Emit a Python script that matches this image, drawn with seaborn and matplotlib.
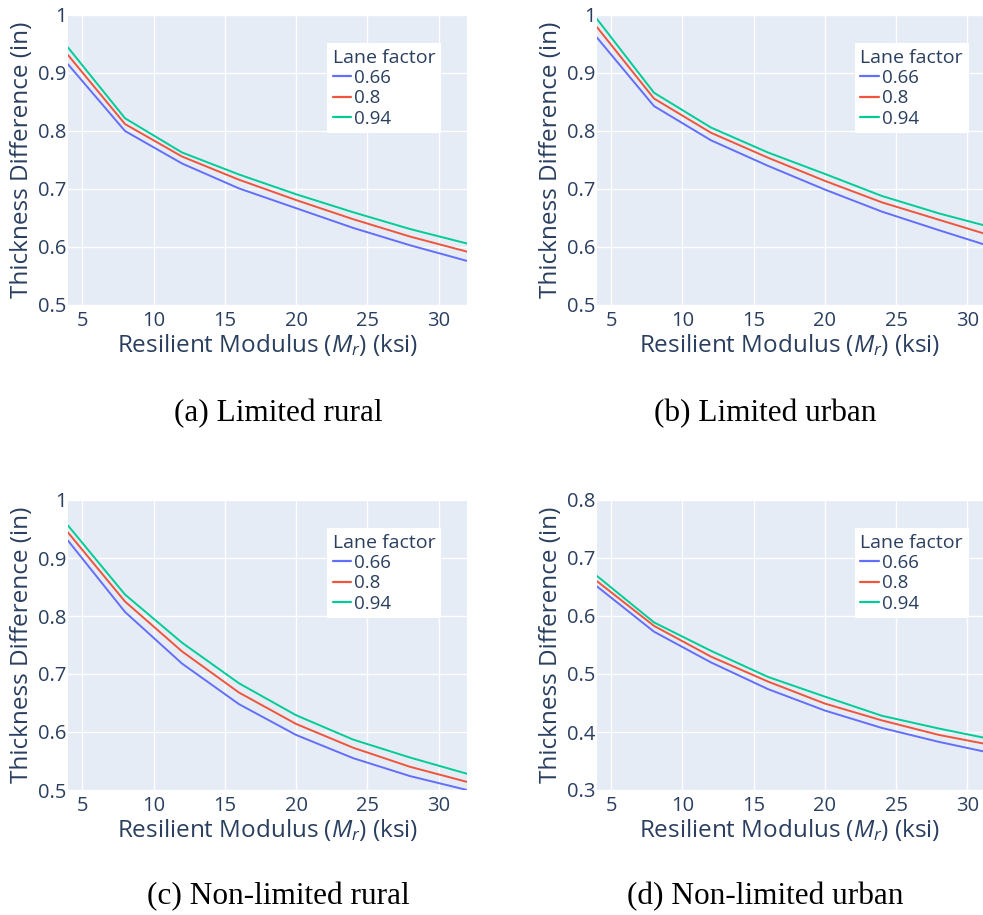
import matplotlib
matplotlib.use("Agg")
import matplotlib.pyplot as plt
from matplotlib.ticker import FuncFormatter, MultipleLocator
import numpy as np
import pandas as pd
import seaborn as sns

# Resilient modulus (ksi) sampled for every case
modulus = [4, 8, 12, 16, 20, 24, 28, 32]
lane_factors = ["0.66", "0.8", "0.94"]

# Thickness difference (in) per lane factor
limited_rural_066 = [0.915, 0.800, 0.744, 0.701, 0.667, 0.633, 0.603, 0.576]
limited_rural_080 = [0.931, 0.812, 0.756, 0.716, 0.681, 0.648, 0.618, 0.592]
limited_rural_094 = [0.944, 0.822, 0.763, 0.725, 0.691, 0.660, 0.631, 0.606]

limited_urban_066 = [0.961, 0.843, 0.784, 0.740, 0.699, 0.661, 0.629, 0.598]
limited_urban_080 = [0.979, 0.856, 0.797, 0.754, 0.714, 0.677, 0.647, 0.617]
limited_urban_094 = [0.993, 0.866, 0.806, 0.763, 0.726, 0.688, 0.658, 0.632]

nonlimited_rural_066 = [0.930, 0.807, 0.718, 0.648, 0.595, 0.555, 0.524, 0.500]
nonlimited_rural_080 = [0.944, 0.825, 0.739, 0.668, 0.614, 0.573, 0.540, 0.514]
nonlimited_rural_094 = [0.956, 0.837, 0.754, 0.684, 0.629, 0.587, 0.556, 0.528]

nonlimited_urban_066 = [0.651, 0.573, 0.520, 0.474, 0.437, 0.407, 0.383, 0.362]
nonlimited_urban_080 = [0.660, 0.583, 0.530, 0.487, 0.449, 0.420, 0.395, 0.376]
nonlimited_urban_094 = [0.669, 0.589, 0.540, 0.495, 0.461, 0.428, 0.406, 0.386]

captions = ["(a) Limited rural", "(b) Limited urban",
            "(c) Non-limited rural", "(d) Non-limited urban"]

series = [
    [limited_rural_066, limited_rural_080, limited_rural_094],
    [limited_urban_066, limited_urban_080, limited_urban_094],
    [nonlimited_rural_066, nonlimited_rural_080, nonlimited_rural_094],
    [nonlimited_urban_066, nonlimited_urban_080, nonlimited_urban_094],
]

y_limits = [(0.5, 1.0), (0.5, 1.0), (0.5, 1.0), (0.3, 0.8)]
x_limits = [(4, 32), (4, 31.1), (4, 32), (4, 31.1)]

sns.set_theme(style="darkgrid")
plt.rcParams["font.family"] = ["Open Sans", "DejaVu Sans"]
plt.rcParams["mathtext.fontset"] = "custom"
plt.rcParams["mathtext.rm"] = "Open Sans"
plt.rcParams["mathtext.it"] = "Open Sans:italic"

TEXT = "#2a3f5f"
BG = "#E5ECF6"
palette = {"0.66": "#636efa", "0.8": "#EF553B", "0.94": "#00cc96"}

W, H = 983, 915
fig = plt.figure(figsize=(W / 100, H / 100), dpi=100)
fig.patch.set_facecolor("white")

# axes boxes in pixels: left, top, right, bottom
boxes = [(68, 15, 467, 305), (597, 15, 983, 305),
         (68, 500, 467, 790), (597, 500, 983, 790)]
legend_anchor = [(0.649, 0.903), (0.668, 0.903), (0.649, 0.903), (0.668, 0.903)]
caption_pos = [(278, 414), (765, 414), (278, 897), (765, 897)]

for i in range(4):
    l, t, r, b = boxes[i]
    ax = fig.add_axes([l / W, 1 - b / H, (r - l) / W, (b - t) / H])
    rows = []
    for lf, vals in zip(lane_factors, series[i]):
        for x, y in zip(modulus, vals):
            rows.append({"Mr": x, "diff": y, "Lane factor": lf})
    df = pd.DataFrame(rows)
    sns.lineplot(data=df, x="Mr", y="diff", hue="Lane factor",
                 hue_order=lane_factors, palette=palette, linewidth=1.4,
                 ax=ax, estimator=None, sort=False)
    ax.set_facecolor(BG)
    ax.set_xlim(*x_limits[i])
    ax.set_ylim(*y_limits[i])
    ax.xaxis.set_major_locator(MultipleLocator(5))
    ax.yaxis.set_major_locator(MultipleLocator(0.1))
    ax.yaxis.set_major_formatter(FuncFormatter(lambda v, p: f"{v:g}"))
    ax.grid(True, color="white", linewidth=1.0)
    for s in ax.spines.values():
        s.set_visible(False)
    ax.tick_params(axis="both", length=0, labelsize=14.5, colors=TEXT)
    ax.tick_params(axis="x", pad=4)
    ax.tick_params(axis="y", pad=1)
    ax.set_xlabel("Resilient Modulus ($M_r$) (ksi)", fontsize=17.5,
                  color=TEXT, labelpad=1)
    ax.set_ylabel("Thickness Difference (in)", fontsize=17.5, color=TEXT,
                  labelpad=3)
    leg = ax.legend(title="Lane factor", loc="upper left",
                    bbox_to_anchor=legend_anchor[i], fontsize=13.5,
                    title_fontsize=14, frameon=True, fancybox=False,
                    framealpha=1, handlelength=1.0, handletextpad=0.15,
                    labelspacing=0.12, borderpad=0.3, borderaxespad=0)
    leg.get_frame().set_facecolor("white")
    leg.get_frame().set_edgecolor("white")
    leg.get_frame().set_linewidth(0)
    leg._legend_box.align = "left"
    leg.get_title().set_color(TEXT)
    for txt in leg.get_texts():
        txt.set_color(TEXT)
    for ln in leg.get_lines():
        ln.set_linewidth(1.6)
    cx, cy = caption_pos[i]
    fig.text(cx / W, 1 - cy / H, captions[i], ha="center", va="center",
             fontsize=22.5, family="Liberation Serif", color="black")

fig.savefig("out.png", dpi=100)
